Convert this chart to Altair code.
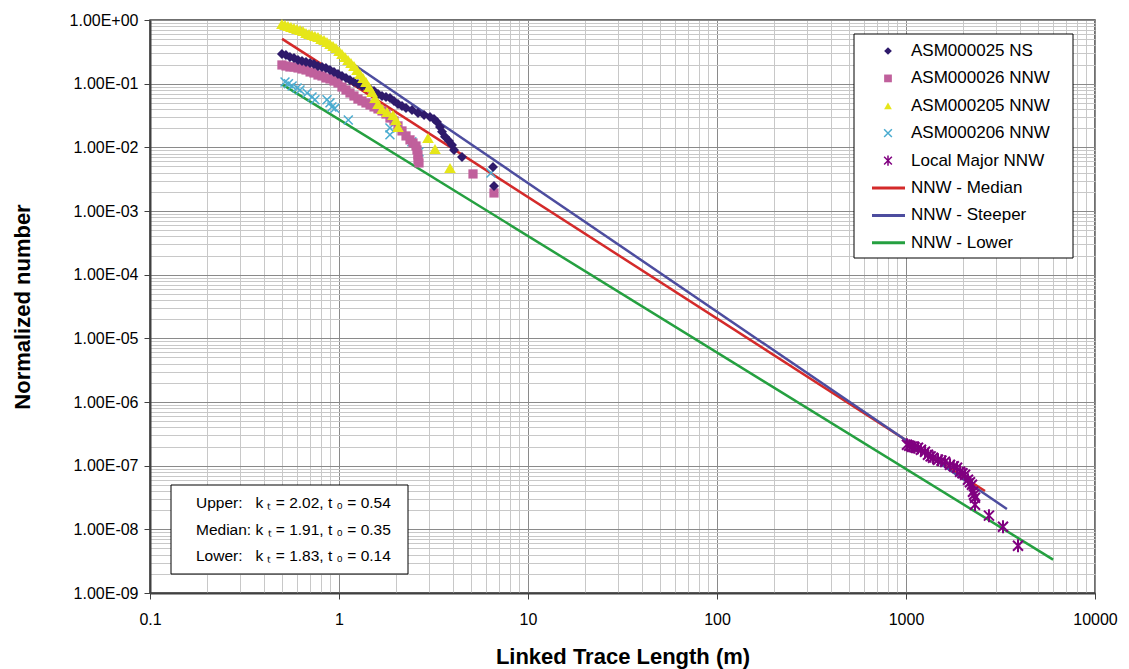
import altair as alt
import pandas as pd

# ---------------- data ----------------
ns25_x = [0.499, 0.524, 0.550, 0.578, 0.607, 0.637, 0.669, 0.703, 0.737, 0.774, 0.813, 0.853, 0.896, 0.941,
          0.988, 1.037, 1.089, 1.143, 1.200, 1.260, 1.323, 1.389, 1.459, 1.532, 1.608, 1.689, 1.773, 1.861,
          1.954, 2.052, 2.154, 2.262, 2.433, 2.618, 2.818, 3.030, 3.182, 3.300, 3.423, 3.508, 3.638, 3.819,
          3.962, 4.061, 4.476, 6.528, 6.608]
ns25_y = [0.2925, 0.2821, 0.2625, 0.2532, 0.2355, 0.2272, 0.2191, 0.2113, 0.2038, 0.1896, 0.1829, 0.1764,
          0.1641, 0.1527, 0.1421, 0.1321, 0.1229, 0.1143, 0.1063, 0.0989, 0.0920, 0.0887, 0.0825, 0.0768,
          0.0689, 0.0641, 0.0618, 0.0596, 0.0535, 0.0480, 0.0447, 0.0415, 0.0387, 0.0347, 0.0323, 0.0300,
          0.0279, 0.0250, 0.0209, 0.0175, 0.0146, 0.0126, 0.0109, 0.0091, 0.00707, 0.00492, 0.00248]

nnw26_x = [0.499, 0.524, 0.550, 0.578, 0.607, 0.637, 0.669, 0.703, 0.737, 0.774, 0.813, 0.853, 0.896, 0.941,
           0.988, 1.037, 1.089, 1.143, 1.200, 1.260, 1.323, 1.389, 1.459, 1.532, 1.608, 1.689, 1.773, 1.861,
           1.954, 2.052, 2.154, 2.262, 2.375, 2.463, 2.555, 2.586, 2.618, 2.618, 2.650, 5.117, 6.608]
nnw26_y = [0.1966, 0.1896, 0.1829, 0.1829, 0.1764, 0.1701, 0.1641, 0.1527, 0.1472, 0.1369, 0.1321, 0.1229,
           0.1185, 0.1102, 0.1026, 0.0887, 0.0796, 0.0714, 0.0641, 0.0575, 0.0535, 0.0498, 0.0463, 0.0431,
           0.0401, 0.0373, 0.0334, 0.0289, 0.0260, 0.0217, 0.0181, 0.0151, 0.0131, 0.0117, 0.0105, 0.0091,
           0.0076, 0.00634, 0.00569, 0.00382, 0.00192]

nnw205_x = [0.499, 0.518, 0.537, 0.557, 0.578, 0.599, 0.622, 0.645, 0.669, 0.694, 0.720, 0.746, 0.774, 0.803,
            0.833, 0.864, 0.896, 0.930, 0.964, 1.000, 1.037, 1.076, 1.116, 1.157, 1.200, 1.245, 1.292, 1.340,
            1.389, 1.441, 1.495, 1.551, 1.608, 1.689, 1.795, 1.931, 2.003, 2.052, 2.957, 3.221, 3.867]
nnw205_y = [0.865, 0.835, 0.805, 0.776, 0.749, 0.722, 0.697, 0.672, 0.625, 0.603, 0.581, 0.561, 0.541, 0.503,
            0.485, 0.451, 0.420, 0.391, 0.363, 0.326, 0.2925, 0.2625, 0.2355, 0.2113, 0.1896, 0.1641, 0.1421,
            0.1229, 0.1063, 0.0887, 0.0741, 0.0596, 0.0480, 0.0401, 0.0359, 0.0323, 0.0269, 0.0209, 0.01405,
            0.00944, 0.00475]

nnw206_x = [0.518, 0.540, 0.565, 0.600, 0.622, 0.678, 0.720, 0.746, 0.864, 0.896, 0.917, 0.950, 1.12, 1.86,
            1.86, 2.43, 2.65, 6.37]
nnw206_y = [0.106, 0.100, 0.092, 0.0854, 0.0796, 0.0714, 0.0618, 0.0560, 0.0560, 0.0500, 0.0430, 0.0410,
            0.0269, 0.0202, 0.0157, 0.0122, 0.00847, 0.00396]

major_x = [1012, 1040, 1076, 1110, 1157, 1200, 1261, 1307, 1350, 1390, 1477, 1540, 1608, 1710, 1790, 1862,
           1932, 1990, 2053, 2128, 2180, 2234, 2261, 2290, 2317, 2317, 2748, 3260, 3914]
major_y = [2.13e-7, 2.05e-7, 1.98e-7, 1.95e-7, 1.91e-7, 1.78e-7, 1.65e-7, 1.48e-7, 1.40e-7, 1.33e-7,
           1.24e-7, 1.20e-7, 1.15e-7, 1.03e-7, 9.8e-8, 9.27e-8, 8.02e-8, 7.6e-8, 7.19e-8, 6.01e-8,
           5.5e-8, 5.01e-8, 3.89e-8, 3.5e-8, 3.13e-8, 2.43e-8, 1.64e-8, 1.10e-8, 5.53e-9]

median_x = [0.5, 2618]
median_y = [0.506, 4.0e-8]
steeper_x = [0.62, 3420]
steeper_y = [0.756, 2.09e-8]
lower_x = [0.5, 6000]
lower_y = [0.0973, 3.34e-9]

series_names = ["ASM000025 NS", "ASM000026 NNW", "ASM000205 NNW", "ASM000206 NNW", "Local Major NNW",
                "NNW - Median", "NNW - Steeper", "NNW - Lower"]
series_colors = ["#2e1a6b", "#c0609c", "#e6e619", "#4bacd0", "#800080", "#d42a2a", "#4d4d9f", "#25a040"]
X_PATH = "M-1,-1L1,1M-1,1L1,-1"
AST_PATH = "M-1,-1L1,1M-1,1L1,-1M0,-1.3L0,1.3"
series_shapes = ["diamond", "square", "triangle-up", X_PATH, AST_PATH, "", "", ""]

NB = "\u00a0"
box_lines = [f"Upper:{NB*3}k \u209c = 2.02, t \u2080 = 0.54",
             f"Median: k \u209c = 1.91, t \u2080 = 0.35",
             f"Lower:{NB*3}k \u209c = 1.83, t \u2080 = 0.14"]

# ---------------- scales / axes ----------------
FONT = "Liberation Sans"
W, H = 945, 573
major = "abs(log(datum.value)/LN10 - round(log(datum.value)/LN10)) < 0.001"

x_vals = sorted({round(k * 10.0 ** e, 6) for e in range(-1, 4) for k in range(1, 10)} | {10000.0})
y_vals = sorted({float(f"{k}e{e}") for e in range(-9, 0) for k in range(1, 10)} | {1.0})

grid_color = {"condition": {"test": major, "value": "#8a8a8a"}, "value": "#c8c8c8"}
tick_op = {"condition": {"test": major, "value": 1}, "value": 0}

x_axis = alt.Axis(values=x_vals, labelExpr=f"({major}) ? format(datum.value, '~g') : ''",
                  grid=True, gridColor=grid_color, gridWidth=1, tickOpacity=tick_op, tickSize=6,
                  tickColor="#404040", domainColor="#404040", domainWidth=2, labelFlush=False,
                  labelOverlap=False, labelFont=FONT, labelFontSize=16, labelColor="black", labelPadding=12,
                  title="Linked Trace Length (m)", titleFont=FONT, titleFontSize=22, titleFontWeight="bold",
                  titleColor="black", titleX=W / 2, titleY=63, titleAlign="center", titleBaseline="middle")
y_axis = alt.Axis(values=y_vals,
                  labelExpr=f"({major}) ? (round(log(datum.value)/LN10) >= 0 ? '1.00E+00' : "
                            f"'1.00E-0' + (-round(log(datum.value)/LN10))) : ''",
                  grid=True, gridColor=grid_color, gridWidth=1, tickOpacity=tick_op, tickSize=6,
                  tickColor="#404040", domainColor="#404040", domainWidth=2, labelFlush=False,
                  labelOverlap=False, labelFont=FONT, labelFontSize=16, labelColor="black", labelPadding=6,
                  title="Normalized number", titleFont=FONT, titleFontSize=22, titleFontWeight="bold",
                  titleColor="black", titleX=-128, titleY=H / 2, titleAngle=270, titleAlign="center",
                  titleBaseline="middle")

xs = alt.Scale(type="log", domain=[0.1, 10000], nice=False)
ys = alt.Scale(type="log", domain=[1e-9, 1], nice=False)
X = alt.X("x:Q", scale=xs, axis=x_axis)
Y = alt.Y("y:Q", scale=ys, axis=y_axis)


def df(xv, yv):
    return pd.DataFrame({"x": xv, "y": yv})


def line(xv, yv, color):
    return alt.Chart(df(xv, yv)).mark_line(color=color, strokeWidth=2.5).encode(x=X, y=Y)


def pts(xv, yv, i, size, filled=True, sw=1.0):
    return alt.Chart(df(xv, yv)).mark_point(shape=series_shapes[i], filled=filled, size=size, opacity=1,
                                            color=series_colors[i], strokeWidth=sw).encode(x=X, y=Y)


main = alt.layer(
    line(median_x, median_y, series_colors[5]),
    line(steeper_x, steeper_y, series_colors[6]),
    line(lower_x, lower_y, series_colors[7]),
    pts(nnw206_x, nnw206_y, 3, 80, filled=False, sw=1.5),
    pts(nnw26_x, nnw26_y, 1, 85),
    pts(ns25_x, ns25_y, 0, 100),
    pts(nnw205_x, nnw205_y, 2, 135),
    pts(major_x, major_y, 4, 100, filled=False, sw=2),
)

# ---------------- legend and annotation box ----------------
leg = pd.DataFrame({"name": series_names, "color": series_colors, "shape": series_shapes,
                    "row": list(range(len(series_names)))})
leg["ypix"] = 31 + 27.4 * leg["row"]
one = pd.DataFrame({"a": [0]})
LY = alt.Y("ypix:Q", scale=None, axis=None)
LC = alt.Color("color:N", scale=None, legend=None)
LS = alt.Shape("shape:N", scale=None, legend=None)

leg_box = alt.Chart(one).mark_rect(fill="white", stroke="black", strokeWidth=1).encode(
    x=alt.value(704), x2=alt.value(923), y=alt.value(14), y2=alt.value(238))
leg_filled = alt.Chart(leg[leg.row < 3]).mark_point(filled=True, size=60, opacity=1).encode(
    x=alt.value(738), y=LY, color=LC, shape=LS)
leg_open = alt.Chart(leg[(leg.row >= 3) & (leg.row < 5)]).mark_point(filled=False, size=60, opacity=1,
                                                                      strokeWidth=1.5).encode(
    x=alt.value(738), y=LY, color=LC, shape=LS)
leg_lines = alt.Chart(leg[leg.row >= 5]).mark_rule(strokeWidth=3).encode(
    x=alt.value(722), x2=alt.value(755), y=LY, color=LC)
leg_text = alt.Chart(leg).mark_text(align="left", baseline="middle", font=FONT, fontSize=17,
                                    color="black").encode(x=alt.value(761), y=LY, text="name:N")

box = pd.DataFrame({"t": box_lines, "row": [0, 1, 2]})
box["ypix"] = 483 + 26.5 * box["row"]
note_box = alt.Chart(one).mark_rect(fill="white", stroke="black", strokeWidth=1).encode(
    x=alt.value(21), x2=alt.value(258), y=alt.value(465), y2=alt.value(554))
note_text = alt.Chart(box).mark_text(align="left", baseline="middle", font=FONT, fontSize=15.5,
                                     color="black").encode(x=alt.value(46), y=LY, text="t:N")

overlay = alt.layer(leg_box, leg_lines, leg_filled, leg_open, leg_text, note_box, note_text)

chart = alt.layer(main, overlay).resolve_scale(x="independent", y="independent",
                                               color="independent", shape="independent").properties(
    width=W, height=H,
    padding={"left": 150, "top": 20, "right": 34, "bottom": 76},
    autosize=alt.AutoSizeParams(type="none"),
    background="white",
).configure_view(stroke="#404040", strokeWidth=1.5)

chart.save("out.html", embed_options={"renderer": "svg", "actions": False})
